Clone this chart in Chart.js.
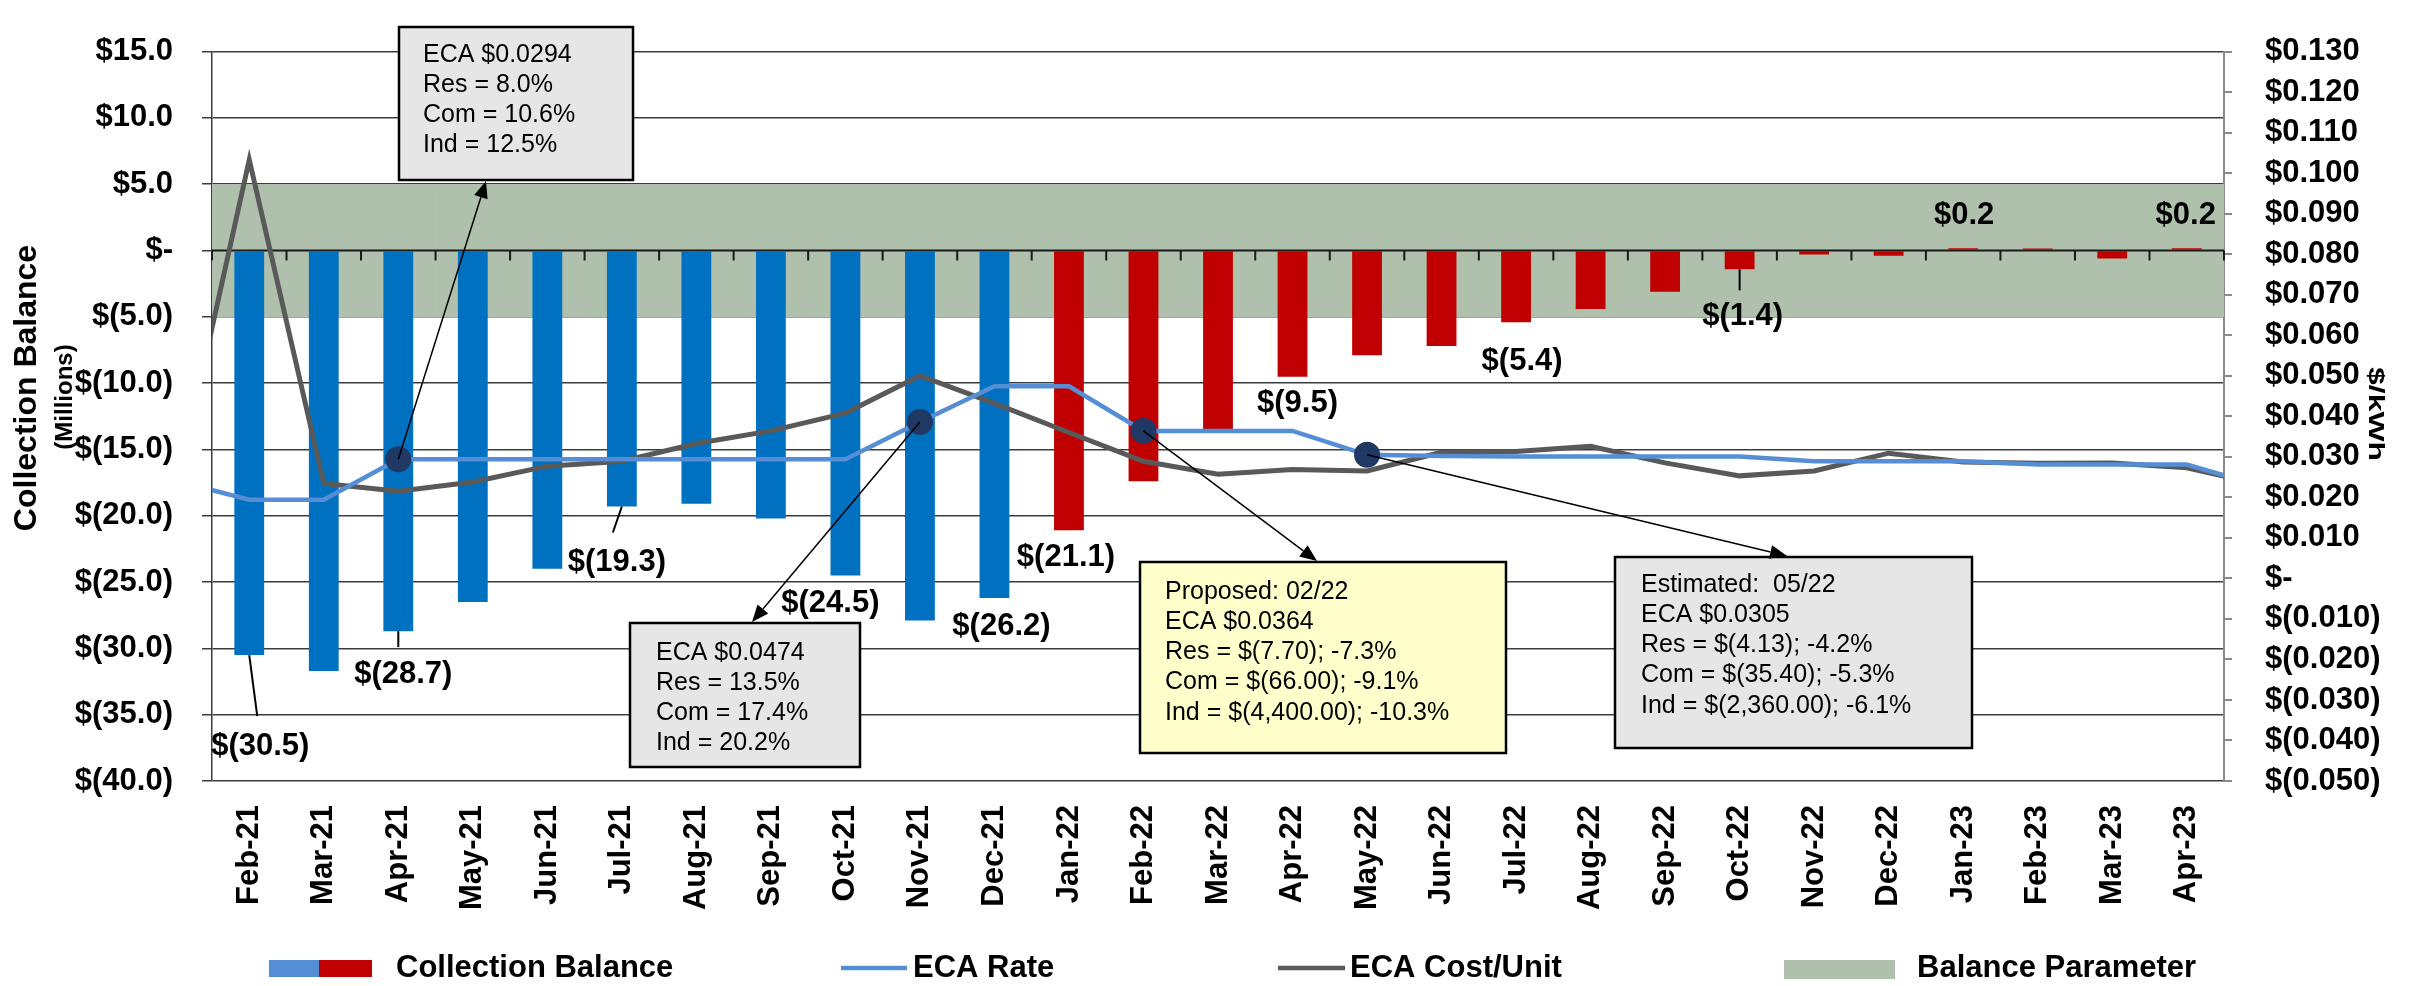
<!DOCTYPE html>
<html>
<head>
<meta charset="utf-8">
<script src="https://cdn.jsdelivr.net/npm/chart.js@4.4.1/dist/chart.umd.min.js"></script>
<style>
  html, body { margin: 0; padding: 0; background: #fff; }
  canvas { display: block; }
</style>
</head>
<body>
<canvas id="eca-chart" width="2409" height="986"></canvas>
<script>
const FONT = "'Liberation Sans', Arial, sans-serif";

// bar categories
const months = ['Feb-21', 'Mar-21', 'Apr-21', 'May-21', 'Jun-21', 'Jul-21', 'Aug-21', 'Sep-21', 'Oct-21', 'Nov-21', 'Dec-21',
  'Jan-22', 'Feb-22', 'Mar-22', 'Apr-22', 'May-22', 'Jun-22', 'Jul-22', 'Aug-22', 'Sep-22', 'Oct-22', 'Nov-22', 'Dec-22',
  'Jan-23', 'Feb-23', 'Mar-23', 'Apr-23'];

// collection balance, $ millions
const collectionBalance = [-30.5, -31.7, -28.7, -26.5, -24.0, -19.3, -19.1, -20.2, -24.5, -27.9, -26.2,
  -21.1, -17.4, -13.5, -9.52, -7.9, -7.2, -5.4, -4.4, -3.1, -1.42, -0.3, -0.4,
  0.18, 0.15, -0.6, 0.18];

// balance parameter band (+/- $5M)
const balanceLow  = [-5, -5, -5, -5, -5, -5, -5, -5, -5, -5, -5, -5, -5, -5, -5, -5, -5, -5, -5, -5, -5, -5, -5, -5, -5, -5, -5];
const balanceHigh = [5, 5, 5, 5, 5, 5, 5, 5, 5, 5, 5, 5, 5, 5, 5, 5, 5, 5, 5, 5, 5, 5, 5, 5, 5, 5, 5];

// the two $/kWh lines run one month past each edge of the plot (clipped there)
const lineMonths = ['Jan-21', ...months, 'May-23'];
const ecaRate = [0.0242, 0.0194, 0.0194, 0.0294, 0.0294, 0.0294, 0.0294, 0.0294, 0.0294, 0.0294, 0.0386, 0.0474,
  0.0474, 0.0364, 0.0364, 0.0364, 0.0305, 0.0302, 0.0301, 0.0301, 0.0301, 0.0301, 0.0289, 0.0289,
  0.0289, 0.0281, 0.0281, 0.0281, 0.0227];
const ecaCost = [0.0203, 0.1033, 0.0234, 0.0215, 0.0238, 0.0277, 0.0289, 0.0333, 0.0364, 0.0408, 0.0500, 0.0432,
  0.0360, 0.0289, 0.0257, 0.0269, 0.0265, 0.0311, 0.0313, 0.0326, 0.0285, 0.0253, 0.0265, 0.0309,
  0.0287, 0.0284, 0.0285, 0.0273, 0.0231];
const markedMonths = ['Apr-21', 'Nov-21', 'Feb-22', 'May-22'];

// which bars carry a value label, and where the label sits relative to the bar end
const labelSpots = [
  { m: 'Feb-21', dx: 11, dy: 91, lead: [8, 61] },
  { m: 'Apr-21', dx: 5, dy: 43, lead: [0, 16] },
  { m: 'Jul-21', dx: -5, dy: 56, lead: [-9, 26] },
  { m: 'Oct-21', dx: -15, dy: 28 },
  { m: 'Dec-21', dx: 7, dy: 28 },
  { m: 'Jan-22', dx: -3, dy: 27 },
  { m: 'Apr-22', dx: 5, dy: 27 },
  { m: 'Jul-22', dx: 6, dy: 39 },
  { m: 'Oct-22', dx: 3, dy: 47, lead: [0, 21] },
  { m: 'Jan-23', dx: 1, dy: -33 },
  { m: 'Apr-23', dx: -1, dy: -33 }
];

// callout boxes (layout) pointing at ECA Rate points
const callouts = [
  { m: 'Apr-21', box: [399, 27, 234, 153], fill: '#e6e6e6', tip: [486, 181], tx: 423, ty: 55,
    lines: ['ECA $0.0294', 'Res = 8.0%', 'Com = 10.6%', 'Ind = 12.5%'] },
  { m: 'Nov-21', box: [630, 623, 230, 144], fill: '#e6e6e6', tip: [752, 622], tx: 656, ty: 653,
    lines: ['ECA $0.0474', 'Res = 13.5%', 'Com = 17.4%', 'Ind = 20.2%'] },
  { m: 'Feb-22', box: [1140, 562, 366, 191], fill: '#ffffcc', tip: [1317, 561], tx: 1165, ty: 592,
    lines: ['Proposed: 02/22', 'ECA $0.0364', 'Res = $(7.70); -7.3%', 'Com = $(66.00); -9.1%', 'Ind = $(4,400.00); -10.3%'] },
  { m: 'May-22', box: [1615, 557, 357, 191], fill: '#e6e6e6', tip: [1787, 556], tx: 1641, ty: 585,
    lines: ['Estimated:  05/22', 'ECA $0.0305', 'Res = $(4.13); -4.2%', 'Com = $(35.40); -5.3%', 'Ind = $(2,360.00); -6.1%'] }
];

const fmtMillions = v => {
  if (Math.abs(v) < 1e-9) return '$-';
  return v < 0 ? '$(' + Math.abs(v).toFixed(1) + ')' : '$' + v.toFixed(1);
};
const fmtRate = v => {
  if (Math.abs(v) < 1e-9) return '$-';
  return v < 0 ? '$(' + Math.abs(v).toFixed(3) + ')' : '$' + v.toFixed(3);
};

function arrow(ctx, x1, y1, x2, y2) {
  const a = Math.atan2(y2 - y1, x2 - x1), L = 17, W = 7;
  const bx = x2 - L * Math.cos(a), by = y2 - L * Math.sin(a);
  ctx.beginPath(); ctx.moveTo(x1, y1); ctx.lineTo(bx, by); ctx.stroke();
  ctx.beginPath();
  ctx.moveTo(x2, y2);
  ctx.lineTo(bx + W * Math.sin(a), by - W * Math.cos(a));
  ctx.lineTo(bx - W * Math.sin(a), by + W * Math.cos(a));
  ctx.closePath(); ctx.fill();
}

const overlay = {
  id: 'overlay',
  afterDatasetDraw(chart, args) {
    // zero line with its tick marks, drawn over the band
    if (args.index !== 0) return;
    const { ctx, chartArea: a, scales: { y } } = chart;
    const y0 = y.getPixelForValue(0);
    const cw = (a.right - a.left) / months.length;
    ctx.save();
    ctx.strokeStyle = '#1a1a1a'; ctx.lineWidth = 2;
    ctx.beginPath();
    ctx.moveTo(a.left, y0); ctx.lineTo(a.right, y0);
    for (let k = 0; k <= months.length; k++) {
      ctx.moveTo(a.left + k * cw, y0); ctx.lineTo(a.left + k * cw, y0 + 10);
    }
    ctx.stroke();
    ctx.restore();
  },
  afterDatasetsDraw(chart) {
    const ctx = chart.ctx;
    const bars = chart.getDatasetMeta(1).data;
    ctx.save();
    ctx.fillStyle = '#000'; ctx.strokeStyle = '#000'; ctx.lineWidth = 2;
    ctx.font = 'bold 31px ' + FONT;
    ctx.textAlign = 'center'; ctx.textBaseline = 'middle';
    labelSpots.forEach(s => {
      const i = months.indexOf(s.m);
      const el = bars[i];
      if (s.lead) {
        ctx.beginPath(); ctx.moveTo(el.x, el.y); ctx.lineTo(el.x + s.lead[0], el.y + s.lead[1]); ctx.stroke();
      }
      ctx.fillText(fmtMillions(collectionBalance[i]), el.x + s.dx, el.y + s.dy);
    });

    const pts = chart.getDatasetMeta(2).data;
    callouts.forEach(c => {
      const p = pts[lineMonths.indexOf(c.m)];
      const [bx, by, bw, bh] = c.box;
      ctx.fillStyle = c.fill;
      ctx.fillRect(bx, by, bw, bh);
      ctx.lineWidth = 2.5; ctx.strokeStyle = '#000';
      ctx.strokeRect(bx, by, bw, bh);
      ctx.fillStyle = '#000';
      ctx.font = '25px ' + FONT;
      ctx.textAlign = 'left';
      c.lines.forEach((t, k) => ctx.fillText(t, c.tx, c.ty + k * 30.2));
      ctx.lineWidth = 1.5;
      arrow(ctx, p.x, p.y, c.tip[0], c.tip[1]);
    });
    ctx.restore();
  },
  afterDraw(chart) {
    const ctx = chart.ctx;
    ctx.save();
    ctx.fillStyle = '#000';
    ctx.textAlign = 'center'; ctx.textBaseline = 'middle';
    // left axis title
    ctx.save();
    ctx.translate(27, 388); ctx.rotate(-Math.PI / 2);
    ctx.font = 'bold 32px ' + FONT;
    ctx.fillText('Collection Balance', 0, 0);
    ctx.restore();
    ctx.save();
    ctx.translate(65, 397); ctx.rotate(-Math.PI / 2);
    ctx.font = 'bold 24px ' + FONT;
    ctx.fillText('(Millions)', 0, 0);
    ctx.restore();
    // right axis title
    ctx.save();
    ctx.translate(2375, 414); ctx.rotate(Math.PI / 2); ctx.scale(1.45, 1);
    ctx.font = 'bold 22px ' + FONT;
    ctx.fillText('$/kWh', 0, 0);
    ctx.restore();

    // legend
    const ly = 968;
    ctx.font = 'bold 31px ' + FONT;
    ctx.textAlign = 'left';
    ctx.fillStyle = '#558ed5'; ctx.fillRect(269, 960, 50, 17);
    ctx.fillStyle = '#c00000'; ctx.fillRect(319, 960, 53, 17);
    ctx.fillStyle = '#000'; ctx.fillText('Collection Balance', 396, ly);
    ctx.lineWidth = 4.5;
    ctx.strokeStyle = '#558ed5';
    ctx.beginPath(); ctx.moveTo(841, ly); ctx.lineTo(907, ly); ctx.stroke();
    ctx.fillText('ECA Rate', 913, ly);
    ctx.strokeStyle = '#595959';
    ctx.beginPath(); ctx.moveTo(1278, ly); ctx.lineTo(1345, ly); ctx.stroke();
    ctx.fillText('ECA Cost/Unit', 1350, ly);
    ctx.fillStyle = '#afc0ad'; ctx.fillRect(1784, 960, 111, 19);
    ctx.fillStyle = '#000'; ctx.fillText('Balance Parameter', 1917, ly);
    ctx.restore();
  }
};

const tickFont = { family: FONT, size: 31, weight: 'bold' };

new Chart(document.getElementById('eca-chart'), {
  data: {
    labels: months,
    datasets: [
      {
        type: 'bar', label: 'Balance Parameter',
        data: months.map((m, i) => [balanceLow[i], balanceHigh[i]]),
        backgroundColor: '#afc0ad', borderWidth: 0,
        barPercentage: 1, categoryPercentage: 1, grouped: false, order: 4
      },
      {
        type: 'bar', label: 'Collection Balance',
        data: collectionBalance,
        backgroundColor: months.map(m => m.endsWith('-21') ? '#0070c0' : '#c00000'),
        borderWidth: 0, barPercentage: 0.4, categoryPercentage: 1, grouped: false, order: 3
      },
      {
        type: 'line', label: 'ECA Rate',
        data: ecaRate.map((v, i) => ({ x: i - 1, y: v })),
        xAxisID: 'xl', yAxisID: 'y1',
        borderColor: '#558ed5', borderWidth: 4.5, tension: 0,
        pointRadius: lineMonths.map(m => markedMonths.includes(m) ? 13 : 0),
        pointBackgroundColor: '#1f3864', pointBorderWidth: 0,
        clip: 0, order: 1
      },
      {
        type: 'line', label: 'ECA Cost/Unit',
        data: ecaCost.map((v, i) => ({ x: i - 1, y: v })),
        xAxisID: 'xl', yAxisID: 'y1',
        borderColor: '#595959', borderWidth: 5, tension: 0, pointRadius: 0,
        clip: 0, order: 2
      }
    ]
  },
  options: {
    responsive: false,
    devicePixelRatio: 1,
    animation: false,
    layout: { padding: { top: 23, left: 0, right: 0, bottom: 0 } },
    plugins: { legend: { display: false }, tooltip: { enabled: false } },
    scales: {
      x: {
        type: 'category', position: 'bottom', offset: true,
        grid: { display: false, drawTicks: false },
        border: { display: false },
        ticks: { autoSkip: false, minRotation: 90, maxRotation: 90, padding: 24, color: '#000', font: tickFont },
        afterFit: s => { s.height = 205; }
      },
      xl: { type: 'linear', display: false, min: -0.5, max: 26.5 },
      y: {
        position: 'left', min: -40, max: 15,
        ticks: { stepSize: 5, padding: 29, color: '#000', font: tickFont, callback: fmtMillions },
        grid: { color: '#3c3c3c', lineWidth: 1.5, tickLength: 10 },
        border: { color: '#3c3c3c', width: 1.5 },
        afterFit: s => { s.width = 212; }
      },
      y1: {
        position: 'right', min: -0.05, max: 0.13,
        ticks: { stepSize: 0.01, padding: 33, color: '#000', font: tickFont, callback: fmtRate },
        grid: { drawOnChartArea: false, color: '#8a8a8a', lineWidth: 2, tickLength: 8 },
        border: { color: '#8a8a8a', width: 2 },
        afterFit: s => { s.width = 185; }
      }
    }
  },
  plugins: [overlay]
});
</script>
</body>
</html>
